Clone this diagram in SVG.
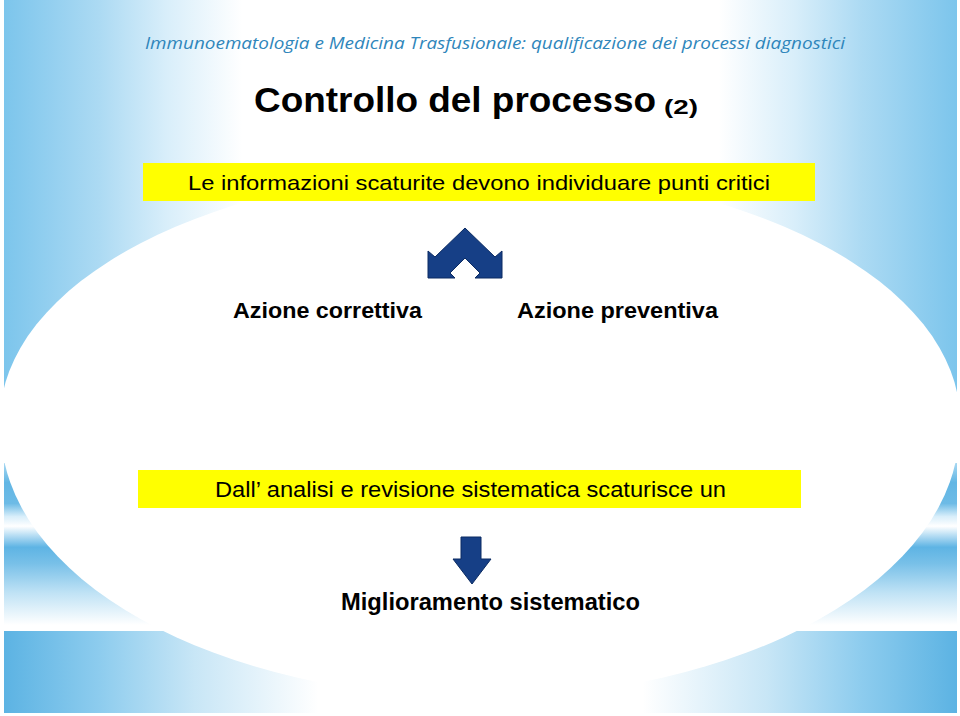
<svg xmlns="http://www.w3.org/2000/svg" width="960" height="716" viewBox="0 0 960 716">
  <defs>
    <linearGradient id="gUpper" x1="0" y1="0" x2="1" y2="0">
      <stop offset="0" stop-color="#7cc5ec"/>
      <stop offset="0.1" stop-color="#acdaf3"/>
      <stop offset="0.17" stop-color="#d8eefa"/>
      <stop offset="0.25" stop-color="#ffffff"/>
      <stop offset="0.75" stop-color="#ffffff"/>
      <stop offset="0.83" stop-color="#d8eefa"/>
      <stop offset="0.9" stop-color="#acdaf3"/>
      <stop offset="1" stop-color="#7cc5ec"/>
    </linearGradient>
    <linearGradient id="gLower" x1="0" y1="0" x2="0" y2="1">
      <stop offset="0" stop-color="#a8d8f2"/>
      <stop offset="0.12" stop-color="#62b6e4"/>
      <stop offset="0.25" stop-color="#6dbbe6"/>
      <stop offset="0.33" stop-color="#d8eefa"/>
      <stop offset="0.39" stop-color="#ffffff"/>
      <stop offset="0.45" stop-color="#b4dcf3"/>
      <stop offset="0.52" stop-color="#5eb4e4"/>
      <stop offset="0.62" stop-color="#78c0e8"/>
      <stop offset="0.8" stop-color="#bfe2f5"/>
      <stop offset="1" stop-color="#ffffff"/>
    </linearGradient>
    <linearGradient id="gBottom" x1="0" y1="0" x2="1" y2="0">
      <stop offset="0" stop-color="#5cb3e3"/>
      <stop offset="0.1" stop-color="#8dccee"/>
      <stop offset="0.2" stop-color="#c8e6f6"/>
      <stop offset="0.33" stop-color="#ffffff"/>
      <stop offset="0.67" stop-color="#ffffff"/>
      <stop offset="0.8" stop-color="#c8e6f6"/>
      <stop offset="0.9" stop-color="#8dccee"/>
      <stop offset="1" stop-color="#5cb3e3"/>
    </linearGradient>
    <clipPath id="clipUpper"><rect x="0" y="0" width="960" height="392"/></clipPath>
    <clipPath id="clipLower"><rect x="0" y="463" width="960" height="253"/></clipPath>
    <style>
      .txt { font-family: "Liberation Sans", Arial, sans-serif; fill: #000; }
      .bold { font-weight: bold; }
      .box { fill: #ffff00; }
      .arrow { fill: #163f86; stroke: #0b2b62; stroke-width: 1; stroke-linejoin: miter; }
      .hdr { font-family: "Open Sans", "DejaVu Sans", sans-serif; font-style: italic; fill: #2f86bb; font-size: 16px; }
    </style>
  </defs>

  <rect x="0" y="0" width="960" height="716" fill="#ffffff"/>

  <!-- background panels -->
  <g id="background">
    <rect x="4" y="0" width="953" height="392" fill="url(#gUpper)"/>
    <rect x="4" y="463" width="953" height="162" fill="url(#gLower)"/>
    <rect x="4" y="631" width="953" height="82" fill="url(#gBottom)"/>
    <ellipse cx="480" cy="420" rx="480" ry="250" fill="#ffffff" clip-path="url(#clipUpper)"/>
    <ellipse cx="480" cy="430" rx="479" ry="268" fill="#ffffff" clip-path="url(#clipLower)"/>
  </g>

  <g id="header">
    <text class="hdr" x="145" y="49" textLength="700" lengthAdjust="spacingAndGlyphs">Immunoematologia e Medicina Trasfusionale: qualificazione dei processi diagnostici</text>
  </g>

  <g id="title">
    <text class="txt bold" x="254" y="112" font-size="35" textLength="402" lengthAdjust="spacingAndGlyphs">Controllo del processo</text>
    <text class="txt bold" x="664" y="114" font-size="21" textLength="34" lengthAdjust="spacingAndGlyphs">(2)</text>
  </g>

  <g id="node-info">
    <rect class="box" x="143" y="163" width="672" height="38"/>
    <text class="txt" x="188" y="190" font-size="21" textLength="582" lengthAdjust="spacingAndGlyphs">Le informazioni scaturite devono individuare punti critici</text>
  </g>

  <g id="node-correttiva">
    <text class="txt bold" x="233" y="318" font-size="22" textLength="189" lengthAdjust="spacingAndGlyphs">Azione correttiva</text>
  </g>

  <g id="node-preventiva">
    <text class="txt bold" x="517" y="318" font-size="22" textLength="201" lengthAdjust="spacingAndGlyphs">Azione preventiva</text>
  </g>

  <g id="node-analisi">
    <rect class="box" x="138" y="470" width="663" height="38"/>
    <text class="txt" x="215" y="497" font-size="22" textLength="511" lengthAdjust="spacingAndGlyphs">Dall’ analisi e revisione sistematica scaturisce un</text>
  </g>

  <g id="node-miglioramento">
    <text class="txt bold" x="341" y="610" font-size="23" textLength="299" lengthAdjust="spacingAndGlyphs">Miglioramento sistematico</text>
  </g>

  <g id="connectors">
    <polygon class="arrow" points="465,228 495,257 502,251 502,278 475,278 480,273 465,258 450,273 455,278 428,278 428,251 435,257"/>
    <polygon class="arrow" points="461,537 481,537 481,559 491,559 472,584 453,559 461,559"/>
  </g>
</svg>
